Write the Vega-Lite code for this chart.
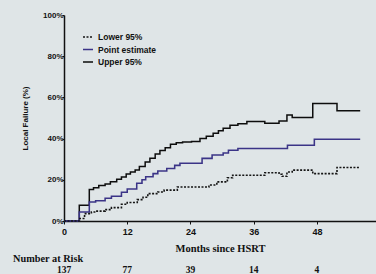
{
  "$schema": "https://vega.github.io/schema/vega-lite/v6.json",
  "background": "#dfe5e7",
  "padding": {"left": 13, "top": 11, "right": 0, "bottom": 0},
  "config": {
    "view": {"stroke": null},
    "axis": {"grid": false, "domainColor": "#111", "tickColor": "#111", "labelColor": "#111", "titleColor": "#111"}
  },
  "spacing": 0,
  "vconcat": [
    {
      "width": 312,
      "height": 206,
      "data": {"values": [
        {"series": "Upper 95%", "month": 0, "value": 0},
        {"series": "Upper 95%", "month": 2.9, "value": 7.6},
        {"series": "Upper 95%", "month": 4.8, "value": 15.3},
        {"series": "Upper 95%", "month": 5.6, "value": 16.2},
        {"series": "Upper 95%", "month": 6.6, "value": 17.2},
        {"series": "Upper 95%", "month": 7.8, "value": 18},
        {"series": "Upper 95%", "month": 8.8, "value": 19},
        {"series": "Upper 95%", "month": 10.0, "value": 20.3},
        {"series": "Upper 95%", "month": 10.9, "value": 21.3},
        {"series": "Upper 95%", "month": 11.8, "value": 22.8},
        {"series": "Upper 95%", "month": 12.6, "value": 23.8},
        {"series": "Upper 95%", "month": 13.5, "value": 24.7},
        {"series": "Upper 95%", "month": 14.3, "value": 26.5},
        {"series": "Upper 95%", "month": 15.4, "value": 28.7},
        {"series": "Upper 95%", "month": 16.3, "value": 30.5},
        {"series": "Upper 95%", "month": 17.3, "value": 32.5},
        {"series": "Upper 95%", "month": 18.2, "value": 34.2},
        {"series": "Upper 95%", "month": 19.2, "value": 35.5},
        {"series": "Upper 95%", "month": 20.2, "value": 37.2},
        {"series": "Upper 95%", "month": 21.3, "value": 38},
        {"series": "Upper 95%", "month": 22.5, "value": 38.4},
        {"series": "Upper 95%", "month": 24.2, "value": 38.6},
        {"series": "Upper 95%", "month": 25.8, "value": 40},
        {"series": "Upper 95%", "month": 27, "value": 41.2},
        {"series": "Upper 95%", "month": 28.3, "value": 42.6},
        {"series": "Upper 95%", "month": 29.3, "value": 43.8},
        {"series": "Upper 95%", "month": 30.2, "value": 45},
        {"series": "Upper 95%", "month": 31.5, "value": 46.5},
        {"series": "Upper 95%", "month": 33, "value": 47.2},
        {"series": "Upper 95%", "month": 34.7, "value": 48.3},
        {"series": "Upper 95%", "month": 38.1, "value": 47.4},
        {"series": "Upper 95%", "month": 40.8, "value": 48.5},
        {"series": "Upper 95%", "month": 42.3, "value": 51.4},
        {"series": "Upper 95%", "month": 43.3, "value": 50.3},
        {"series": "Upper 95%", "month": 47.2, "value": 57},
        {"series": "Upper 95%", "month": 51.8, "value": 53.5},
        {"series": "Upper 95%", "month": 56.2, "value": 53.5},
        {"series": "Point estimate", "month": 0, "value": 0},
        {"series": "Point estimate", "month": 2.9, "value": 4.4},
        {"series": "Point estimate", "month": 4.8, "value": 9.2},
        {"series": "Point estimate", "month": 6, "value": 9.8},
        {"series": "Point estimate", "month": 7.8, "value": 11},
        {"series": "Point estimate", "month": 9, "value": 12},
        {"series": "Point estimate", "month": 10.9, "value": 14},
        {"series": "Point estimate", "month": 12, "value": 15.5},
        {"series": "Point estimate", "month": 13.8, "value": 18.3},
        {"series": "Point estimate", "month": 14.8, "value": 20},
        {"series": "Point estimate", "month": 15.5, "value": 21.5},
        {"series": "Point estimate", "month": 16.9, "value": 23},
        {"series": "Point estimate", "month": 17.8, "value": 24.3},
        {"series": "Point estimate", "month": 19.5, "value": 25.5},
        {"series": "Point estimate", "month": 21, "value": 27},
        {"series": "Point estimate", "month": 22, "value": 28},
        {"series": "Point estimate", "month": 26.2, "value": 30.4},
        {"series": "Point estimate", "month": 28.1, "value": 32},
        {"series": "Point estimate", "month": 30.2, "value": 33},
        {"series": "Point estimate", "month": 31.2, "value": 34.3},
        {"series": "Point estimate", "month": 33, "value": 35.2},
        {"series": "Point estimate", "month": 42.4, "value": 36.8},
        {"series": "Point estimate", "month": 47.5, "value": 39.7},
        {"series": "Point estimate", "month": 56.2, "value": 39.7},
        {"series": "Lower 95%", "month": 0, "value": 0},
        {"series": "Lower 95%", "month": 3.0, "value": 1.2},
        {"series": "Lower 95%", "month": 3.9, "value": 3.6},
        {"series": "Lower 95%", "month": 5.2, "value": 4.4},
        {"series": "Lower 95%", "month": 6, "value": 4.8},
        {"series": "Lower 95%", "month": 7.8, "value": 5.5},
        {"series": "Lower 95%", "month": 9, "value": 6.5},
        {"series": "Lower 95%", "month": 10.9, "value": 8.1},
        {"series": "Lower 95%", "month": 12, "value": 9},
        {"series": "Lower 95%", "month": 13.9, "value": 10.4},
        {"series": "Lower 95%", "month": 15, "value": 11.5},
        {"series": "Lower 95%", "month": 15.9, "value": 13.3},
        {"series": "Lower 95%", "month": 17.8, "value": 14.1},
        {"series": "Lower 95%", "month": 19, "value": 15},
        {"series": "Lower 95%", "month": 21.5, "value": 16.5},
        {"series": "Lower 95%", "month": 27.5, "value": 17.5},
        {"series": "Lower 95%", "month": 29, "value": 19},
        {"series": "Lower 95%", "month": 31, "value": 21},
        {"series": "Lower 95%", "month": 32, "value": 22.2},
        {"series": "Lower 95%", "month": 38.1, "value": 23.4},
        {"series": "Lower 95%", "month": 40.8, "value": 22.7},
        {"series": "Lower 95%", "month": 41.4, "value": 21.7},
        {"series": "Lower 95%", "month": 42.3, "value": 23.8},
        {"series": "Lower 95%", "month": 43.3, "value": 24.7},
        {"series": "Lower 95%", "month": 47.2, "value": 23},
        {"series": "Lower 95%", "month": 51.8, "value": 26},
        {"series": "Lower 95%", "month": 56.2, "value": 26}
      ]},
      "mark": {"type": "line", "interpolate": "step-after"},
      "encoding": {
        "x": {
          "field": "month", "type": "quantitative",
          "scale": {"domain": [0, 59.2], "nice": false, "zero": true},
          "axis": {
            "values": [0, 12, 24, 36, 48], "title": "Months since HSRT",
            "labelFont": "Liberation Sans", "labelFontWeight": "bold", "labelFontSize": 9,
            "titleFont": "Liberation Serif", "titleFontWeight": "bold", "titleFontSize": 10.5,
            "tickSize": 3, "labelPadding": 3, "titlePadding": 7,
            "domainWidth": 1.5, "labelFlush": false
          }
        },
        "y": {
          "field": "value", "type": "quantitative",
          "scale": {"domain": [0, 100], "nice": false},
          "axis": {
            "values": [0, 20, 40, 60, 80, 100], "labelExpr": "datum.value + '%'",
            "title": "Local Failure (%)",
            "labelFont": "Liberation Sans", "labelFontWeight": "bold", "labelFontSize": 8,
            "titleFont": "Liberation Sans", "titleFontWeight": "bold", "titleFontSize": 8,
            "tickSize": 2, "labelPadding": -1, "titlePadding": 13,
            "domainWidth": 1.5, "labelFlush": false
          }
        },
        "color": {
          "field": "series", "type": "nominal",
          "sort": ["Lower 95%", "Point estimate", "Upper 95%"],
          "scale": {"domain": ["Lower 95%", "Point estimate", "Upper 95%"], "range": ["#151515", "#3b3487", "#0d0d0d"]},
          "legend": {
            "title": null, "orient": "none", "legendX": 18, "legendY": 16,
            "symbolType": "stroke", "symbolSize": 100, "symbolStrokeWidth": 1.5,
            "labelFont": "Liberation Sans", "labelFontWeight": "bold", "labelFontSize": 8.5,
            "labelColor": "#111", "labelOffset": 4, "rowPadding": 1.5, "padding": 0
          }
        },
        "strokeDash": {
          "field": "series", "type": "nominal",
          "sort": ["Lower 95%", "Point estimate", "Upper 95%"],
          "scale": {"domain": ["Lower 95%", "Point estimate", "Upper 95%"], "range": [[2, 1.5], [1, 0], [1, 0]]},
          "legend": null
        },
        "strokeWidth": {
          "field": "series", "type": "nominal",
          "scale": {"domain": ["Lower 95%", "Point estimate", "Upper 95%"], "range": [1.6, 1.5, 2]},
          "legend": null
        }
      }
    },
    {
      "width": 312,
      "height": 9,
      "title": {"text": "Number at Risk", "anchor": "start", "frame": "group", "dx": -51, "offset": 0,
        "font": "Liberation Serif", "fontWeight": "bold", "fontSize": 10.3, "color": "#111"},
      "data": {"values": [
        {"month": 0, "n": 137},
        {"month": 12, "n": 77},
        {"month": 24, "n": 39},
        {"month": 36, "n": 14},
        {"month": 48, "n": 4}
      ]},
      "mark": {"type": "text", "font": "Liberation Serif", "fontWeight": "bold", "fontSize": 9.5, "color": "#111"},
      "encoding": {
        "x": {"field": "month", "type": "quantitative", "axis": null,
          "scale": {"domain": [0, 59.2], "nice": false, "zero": true}},
        "text": {"field": "n", "type": "quantitative"}
      }
    }
  ]
}
